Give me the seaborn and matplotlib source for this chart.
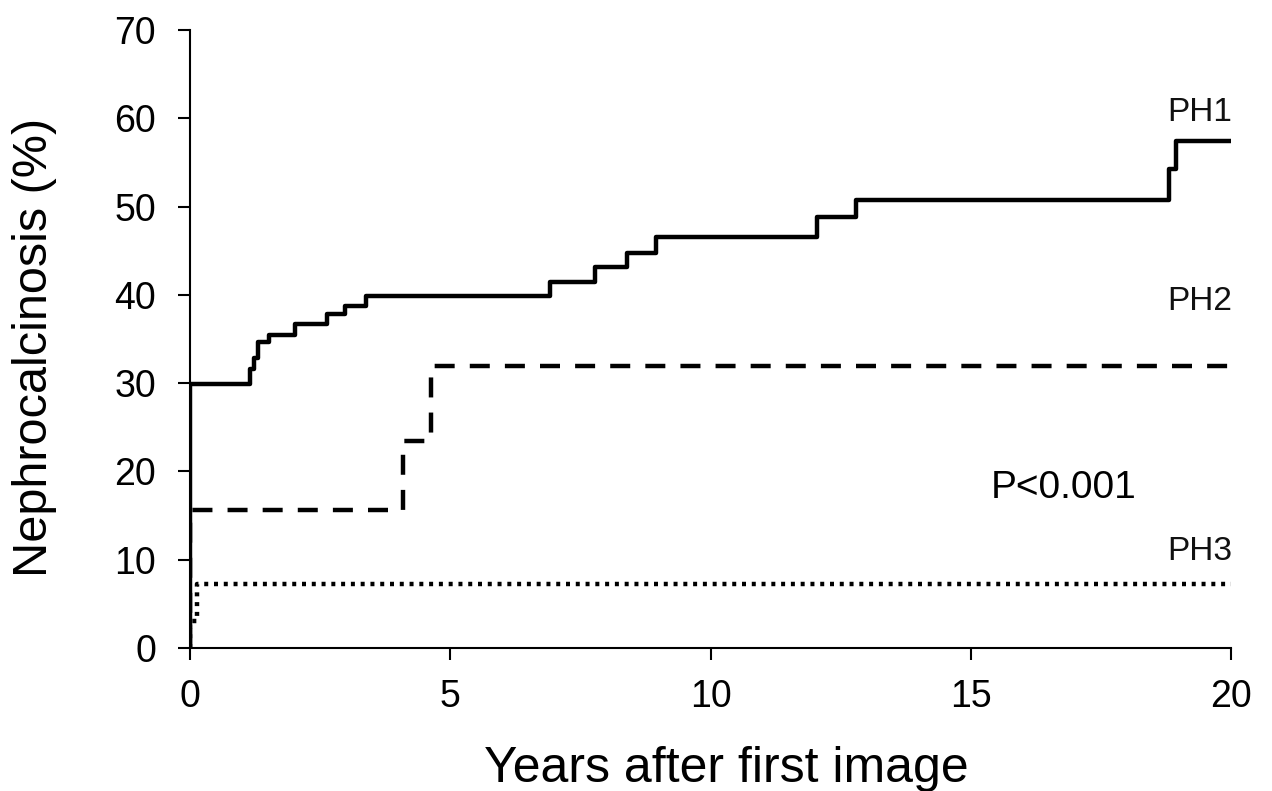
import matplotlib
matplotlib.use("Agg")
import matplotlib.pyplot as plt
import pandas as pd
import seaborn as sns

# step curves (years, cumulative %)
ph1_years = [0, 0, 1.15, 1.22, 1.30, 1.52, 2.02, 2.64, 2.97, 3.39, 6.92, 7.78,
             8.40, 8.95, 12.05, 12.80, 18.80, 18.95, 20.0]
ph1_pct = [0, 29.9, 31.6, 32.9, 34.7, 35.5, 36.7, 37.8, 38.7, 39.9, 41.4, 43.2,
           44.7, 46.5, 48.8, 50.7, 54.2, 57.4, 57.4]

ph2_years = [0, 0, 4.09, 4.62, 20.0]
ph2_pct = [0, 15.6, 23.4, 31.9, 31.9]

ph3_years = [0, 0, 0.14, 20.0]
ph3_pct = [0, 3.1, 7.3, 7.3]

group_labels = ["PH1", "PH2", "PH3"]
label_pos = [(19.4, 60.6), (19.4, 39.2), (19.4, 10.9)]
p_text = "P<0.001"

x_ticks = [0, 5, 10, 15, 20]
y_ticks = [0, 10, 20, 30, 40, 50, 60, 70]


def main() -> None:
    sns.set_style("ticks")
    plt.rcParams["font.family"] = ["Liberation Sans", "DejaVu Sans"]

    fig = plt.figure(figsize=(12.72, 7.91), dpi=100)
    ax = fig.add_axes([0.1494, 0.1808, 0.8184, 0.7813])

    curves = [
        (ph1_years, ph1_pct, "-"),
        (ph2_years, ph2_pct, (0, (4.5, 3.4))),
        (ph3_years, ph3_pct, (0, (0.9, 1.3))),
    ]
    for years, pct, style in curves:
        df = pd.DataFrame({"years": years, "pct": pct})
        sns.lineplot(
            data=df, x="years", y="pct", ax=ax,
            estimator=None, sort=False, drawstyle="steps-post",
            color="black", linewidth=3.2, linestyle=style,
        )

    for label, (lx, ly) in zip(group_labels, label_pos):
        ax.text(lx, ly, label, fontsize=24, ha="center", va="center",
                color="#111111", clip_on=False)
    ax.text(16.78, 18.1, p_text, fontsize=28, ha="center", va="center",
            color="black")

    ax.set_xlim(0, 20)
    ax.set_ylim(0, 70)
    ax.set_xticks(x_ticks)
    ax.set_yticks(y_ticks)
    ax.tick_params(labelsize=27, width=1.5, length=8.5, colors="black",
                   labelcolor="black")
    ax.tick_params(axis="x", pad=14)
    ax.tick_params(axis="y", pad=16)
    ax.set_xlabel("Years after first image", fontsize=36, color="black")
    ax.set_ylabel("Nephrocalcinosis (%)", fontsize=35, color="black")
    ax.xaxis.set_label_coords(0.515, -0.159, transform=ax.transAxes)
    ax.yaxis.set_label_coords(-0.149, 0.487, transform=ax.transAxes)
    ax.xaxis.label.set_va("top")
    ax.yaxis.label.set_va("center")
    ax.yaxis.label.set_ha("center")

    sns.despine(ax=ax)
    for side in ("left", "bottom"):
        ax.spines[side].set_linewidth(1.5)
        ax.spines[side].set_color("black")

    fig.savefig("out.png", dpi=100)
    plt.close(fig)


if __name__ == "__main__":
    main()
